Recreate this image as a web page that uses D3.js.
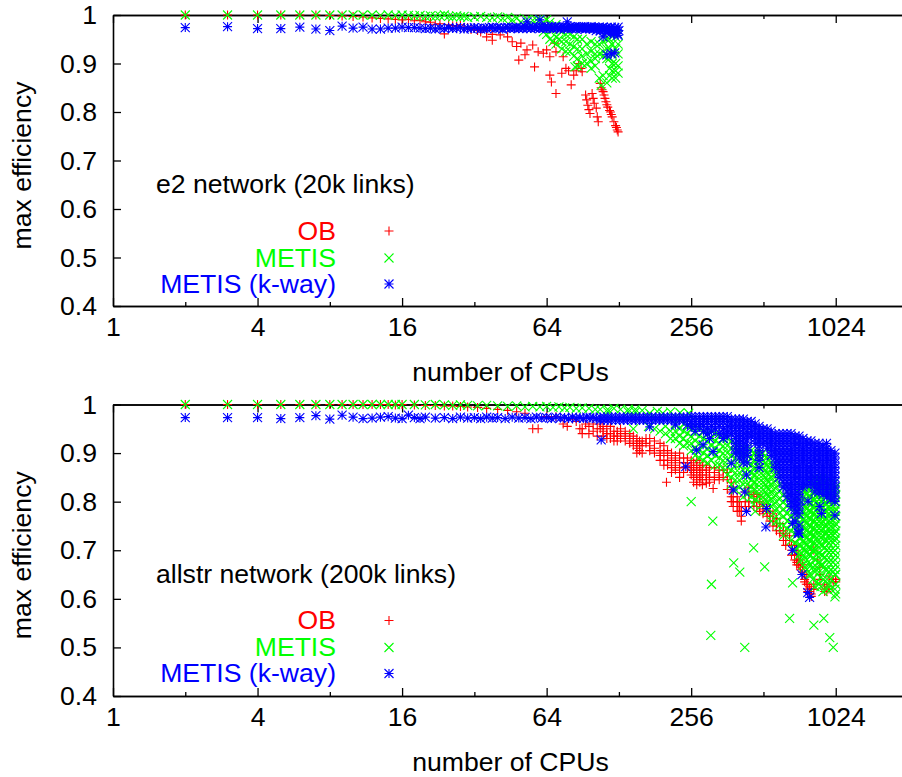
<!DOCTYPE html>
<html><head><meta charset="utf-8">
<script src="https://cdn.jsdelivr.net/npm/d3@7"></script>
<style>html,body{margin:0;background:#fff}svg{display:block}text{font-family:"Liberation Sans",Arial,sans-serif;font-size:26.6px;fill:#000}</style>
</head><body><div id="c"></div>
<script>
// each row: [number of CPUs, max efficiency values read at that CPU count...]
const xMajorTicks=[1,4,16,64,256,1024];
const xMinorTicks=[2,8,32,128,512];
const yTicks=[0.4,0.5,0.6,0.7,0.8,0.9,1];
const seriesNames=["OB","METIS","METIS (k-way)"];
const seriesColors=["#ff0000","#00ff00","#0000ff"];
const panelTitles=["e2 network (20k links)","allstr network (200k links)"];

const e2Ob=[[2,1],[3,1],[4,1],[5,1],[6,1],[7,1],[8,.999],[9,.998],[10,.997],[11,.996],[12,.994],[13,.993],[14,.992],[15,.991],[16,.99],[17,.991],[18,.988],[19,.989],[20,.986],[21,.985],[22,.981],[23,.982],[24,.961],[25,.98],[26,.978],[27,.977],[28,.98],[29,.975],[30,.974],[31,.97],[32,.972],[33,.968],[34,.965,.97],[36,.955,.968],[38,.948,.96],[41,.959],[44,.955],[46,.945],[48,.935],[49,.907],[50,.942],[52,.918],[53,.928],[56,.938],[57,.893],[59,.924],[62,.921],[64,.928],[66,.914,.876],[67,.862],[69,.942],[70,.924,.838],[74,.88],[75,.914],[77,.89],[79,.885],[81,.856],[83,.876],[85,.885],[87,.9],[89,.89],[90,.883],[93,.835],[94,.825],[95,.814],[96,.805],[97,.797],[99,.838],[100,.828],[101,.818],[103,.808],[104,.79],[105,.78],[107,.859],[108,.85],[109,.846],[110,.842],[111,.835],[112,.828],[113,.821],[114,.815],[115,.81],[117,.803],[118,.8],[119,.795],[120,.79],[122,.78],[124,.772],[125,.768],[126,.763],[127,.759]];
const e2Metis=[[2,1],[3,1],[4,1],[5,1],[6,1],[7,1],[8,1],[9,1],[10,1],[11,1],[12,1],[13,.999],[14,1],[15,.999],[16,1],[17,.999],[18,.998],[19,.999],[20,.997],[21,.998],[22,.997],[23,.998],[24,1],[25,.997],[26,.996],[27,.998],[28,.996],[29,.997],[30,.995],[32,.996],[34,.997],[36,.995],[38,.994],[40,.996],[42,.993],[44,.995],[46,.99],[48,.993],[50,.986],[53,.991],[56,.989],[58,.99],[60,.99],[62,.985,.965],[64,.99,.96],[66,.985,.95],[68,.97,.945],[70,.98,.955,.94],[72,.97,.95],[74,.965,.945,.93],[77,.96,.945,.925],[80,.96,.94,.925],[83,.955,.935,.915],[84,.893],[86,.95,.93,.91,.895],[90,.95,.93,.915,.9],[94,.94,.92,.9],[98,.945,.925,.905,.89],[102,.94,.92,.91,.895],[106,.94,.92,.87],[108,.855],[110,.945,.925,.915,.875],[114,.95,.93,.91,.86],[117,.95,.93,.91,.89,.875],[120,.94,.92,.9,.885,.87],[124,.955,.93,.9,.885,.87],[127,.96,.94,.92,.895,.88]];
const e2Kway=[[2,.974],[3,.976],[4,.972],[5,.972],[6,.975],[7,.971],[8,.968],[9,.977],[10,.973],[11,.975],[12,.971],[13,.971],[14,.973],[15,.973],[16,.975],[17,.974],[18,.974],[19,.973],[20,.972],[21,.973],[22,.971],[23,.973],[24,.972],[25,.974],[26,.972],[27,.973],[28,.974],[29,.971],[30,.973],[31,.972],[32,.974],[33,.973],[34,.971],[35,.973],[36,.972],[37,.974],[38,.975],[39,.972],[40,.974],[41,.973],[42,.971],[43,.974],[44,.975],[45,.972],[46,.974],[47,.973],[48,.975],[49,.972],[50,.974],[51,.972],[52,.976],[53,.986,.973],[54,.974],[55,.972],[56,.975],[57,.973],[58,.976],[59,.974],[60,.99,.972],[61,.975],[62,.973],[63,.976],[64,.972],[65,.975],[66,.973],[67,.976],[68,.972],[69,.974],[70,.976],[71,.973],[72,.975],[73,.971],[74,.974],[75,.976],[76,.973],[77,.975],[78,.986,.972],[79,.974],[80,.976],[81,.972],[82,.975],[83,.973],[84,.976],[85,.971],[86,.974],[87,.976],[88,.973],[89,.975],[90,.972],[91,.974],[92,.976],[93,.971],[94,.974],[95,.973],[96,.975],[97,.972],[98,.976],[99,.973],[100,.971],[101,.975],[102,.973],[103,.968],[104,.974],[105,.971],[106,.975],[107,.967],[108,.973],[109,.97],[110,.955,.975],[111,.968],[112,.972],[113,.965],[114,.974,.918],[115,.97],[116,.967],[117,.973],[118,.962],[119,.975,.92],[120,.968],[121,.971],[122,.96],[123,.974,.922],[124,.966],[125,.97],[126,.962],[127,.975,.958],[128,.968]];

const allstrOb=[[2,1],[3,1],[4,1],[5,1],[6,1],[7,1],[8,1],[9,1],[10,1],[11,1],[12,1],[13,1],[14,1],[15,.999],[16,1],[18,.999],[20,.998],[22,.998],[24,.997],[26,.997],[28,.996],[30,.995],[33,.994],[36,.992],[40,.99],[44,.988],[48,.985],[52,.982],[56,.95],[59,.95],[64,.975],[70,.975],[75,.96],[78,.955],[82,.97],[85,.965],[88,.95],[90,.95,.94],[93,.96],[96,.94,.955],[100,.96,.945],[104,.95,.935],[107,.96,.95],[110,.955,.945,.935],[114,.95,.94,.93],[118,.955,.94,.93],[122,.945,.935,.925],[126,.945,.935,.925],[130,.95,.94,.93],[136,.945,.935,.925],[142,.94,.93,.92],[147,.935,.925,.915],[152,.93,.92,.91,.9],[156,.925,.915,.905],[160,.925,.915,.9],[166,.93,.92],[172,.93,.915,.905],[180,.925,.91,.9],[190,.92,.905,.895,.885],[197,.915,.9,.885,.875],[202,.84],[204,.905,.895,.885,.875],[212,.9,.89,.88,.87,.86],[220,.895,.885,.875,.865],[229,.9,.89,.88,.87,.86,.85],[238,.89,.88,.87,.86],[247,.89,.88,.87],[256,.885,.875,.865,.855],[262,.88,.87,.86,.85,.84],[270,.885,.875,.865,.855,.845,.835],[278,.88,.87,.86,.85,.84],[285,.875,.865,.855,.845,.835],[296,.875,.865,.855,.845,.838],[305,.87,.86,.85,.84],[316,.827],[320,.87,.86,.85,.845],[335,.865,.855,.845],[348,.865,.85],[362,.86,.845,.825],[376,.84,.82,.81,.8],[383,.83,.81,.8,.79],[398,.81,.8,.79,.78],[406,.8,.79,.78],[414,.79,.78,.77,.76],[430,.82,.8,.79],[445,.83,.815,.8,.79],[467,.82,.81,.8,.79],[480,.815,.8,.79],[494,.81,.8,.79,.78],[510,.795,.785,.775],[530,.79,.78,.77],[545,.78,.77,.76],[561,.775,.76,.75],[580,.765,.75,.74],[599,.755,.74,.735],[620,.74,.73,.72],[634,.735,.72,.71],[658,.73,.72],[670,.71,.7,.69],[690,.71,.7,.69,.68],[705,.7,.69,.68,.675,.67],[718,.69,.68,.67],[730,.68,.665,.66],[745,.67,.655,.65],[760,.65,.64,.635],[772,.645,.63],[783,.63,.62,.615],[797,.625,.615,.61],[810,.62,.61,.605],[830,.7,.63,.62],[860,.68],[880,.665,.65,.64],[921,.63,.62,.615],[940,.625,.615],[960,.62,.645],[1000,.64,.635],[1024,.64,.635]];
const allstrMetis=[[2,1],[3,1],[4,1],[5,1],[6,1],[7,1],[8,1],[9,1],[10,1],[11,1],[12,1],[13,1],[14,1],[15,1],[16,1],[18,1],[20,.999],[22,1],[24,.999],[26,.998],[28,.999],[30,.998],[33,.997],[36,.998],[40,.997],[44,.996],[48,.997],[52,.995],[56,.996],[60,.995],[64,.996],[68,.994],[72,.995],[76,.993],[80,.994],[85,.992],[90,.993],[96,.992],[102,.99],[107,.99],[115,.99,.985],[122,.992],[130,.99],[140,.99,.985],[147,.95],[150,.99,.985],[160,.988],[172,.982],[185,.986],[195,.982],[210,.985],[230,.983],[250,.982],
[170,.955],[180,.95],[190,.945],[200,.955,.94],[210,.945,.93],[220,.96,.945,.93],[229,.95,.935,.92],[238,.96,.945,.93,.915],[247,.955,.94,.92],[256,.95,.935,.92,.905],[266,.955,.94,.925,.91,.895],[277,.95,.935,.92,.905,.89],[288,.945,.93,.915,.9,.885],[299,.94,.925,.91,.895,.88],[311,.945,.93,.915,.9,.885],[323,.94,.925,.91,.895,.875],[335,.935,.92,.905,.89,.875],[348,.93,.915,.9,.885,.87],[362,.93,.915,.9,.885,.87,.855],[376,.925,.91,.895,.88,.865,.85,.835],[391,.92,.905,.89,.875,.86,.845,.825],[406,.92,.905,.89,.875,.86,.845,.83],[422,.91,.895,.88,.865,.85,.835,.81],[438,.91,.895,.88,.865,.85,.835,.815],[455,.905,.89,.875,.86,.845,.83,.81],[466,.9,.885,.87,.855,.84,.825,.795],[473,.9,.885,.87,.855,.84,.825,.805,.78],[491,.9,.885,.87,.855,.84,.825,.81],[510,.9,.885,.87,.855,.84,.825,.81,.795],[520,.895,.88,.865,.85,.835,.82,.805],[530,.89,.875,.86,.845,.83,.815,.8,.78],[540,.885,.87,.855,.84,.825,.81,.795],[551,.88,.865,.85,.835,.82,.805,.79,.76],[565,.87,.855,.84,.825,.81,.795,.775],[580,.86,.845,.83,.815,.8,.785,.76],[595,.85,.835,.82,.805,.79,.775,.75],[620,.83,.815,.8,.785,.77,.75,.73],[642,.82,.805,.79,.775,.76,.745],[667,.8,.785,.77,.755,.74,.72],[693,.78,.765,.75,.735,.715,.7],[720,.77,.755,.74,.725,.71,.69],[734,.83,.815,.8,.785,.77,.755,.74,.725,.71,.695,.68],[748,.825,.81,.795,.78,.765,.75,.735,.72,.705,.69,.67],[762,.82,.805,.79,.775,.76,.745,.73,.715,.7,.685,.665],[777,.83,.815,.8,.785,.77,.755,.74,.725,.71,.695,.68,.66],[792,.825,.81,.795,.78,.765,.75,.735,.72,.705,.69,.67,.65],[807,.84,.825,.81,.795,.78,.765,.75,.735,.72,.705,.69,.67,.65],[822,.835,.82,.805,.79,.775,.76,.745,.73,.715,.7,.685,.665,.64],[839,.85,.835,.82,.805,.79,.775,.76,.745,.73,.715,.7,.68,.655,.625],[855,.845,.83,.815,.8,.785,.77,.755,.74,.725,.71,.69,.665,.635],[872,.85,.835,.82,.805,.79,.775,.76,.745,.73,.715,.695,.675,.655,.63],[889,.845,.83,.815,.8,.785,.77,.755,.74,.725,.71,.69,.67,.645,.625],[906,.85,.835,.82,.805,.79,.775,.76,.745,.73,.71,.69,.67,.64,.615],[923,.84,.825,.81,.795,.78,.765,.75,.735,.72,.705,.685,.66],[941,.84,.825,.81,.795,.78,.765,.75,.735,.72,.7,.68,.66,.64,.62],[960,.835,.82,.805,.79,.775,.76,.745,.73,.715,.695,.675,.655,.63],[978,.84,.825,.81,.795,.78,.765,.75,.735,.72,.7,.68,.66,.64,.62],[997,.835,.82,.805,.79,.775,.76,.745,.73,.715,.695,.675,.655],[1016,.84,.825,.81,.795,.78,.765,.75,.735,.72,.7,.68,.66,.65,.62,.604],[1024,.83,.815,.8,.785,.77,.755,.74,.725,.71,.69,.67,.65,.63,.61],
[256,.8],[315,.76],[311,.63],[309,.525],[385,.674],[408,.655],[428,.5],[466,.705],[518,.666],[658,.56],[677,.633],[830,.546],[913,.56],[967,.52],[1000,.5]];
const allstrKway=[[2,.973],[3,.973],[4,.973],[5,.971],[6,.973],[7,.977],[8,.97],[9,.978],[10,.974],[11,.971],[12,.972],[13,.974],[14,.975],[15,.972],[16,.971],[17,.978],[18,.973],[19,.971],[20,.974],[22,.972],[24,.973],[26,.971],[28,.974],[30,.972],[32,.973],[34,.971],[36,.974],[38,.972],[40,.973],[43,.971],[46,.974],[49,.972],[52,.973],[55,.971],[58,.974],[61,.972],[64,.973],[67,.971],[70,.974],[73,.972],[76,.973],[79,.971],[82,.974],[85,.972],[88,.973],[91,.971],[94,.974],[97,.972],[100,.973],[103,.971],
[107,.974,.968],[108,.927],[111,.974,.968],[115,.974,.968],[119,.974,.968],[124,.974,.968],[129,.974,.968],[134,.974,.968],[139,.974,.968],[145,.974,.968],[150,.974,.968],[156,.974,.968],[162,.974,.968],[168,.974,.968],[172,.954],[175,.974,.968],[182,.974,.968],[189,.974,.968],[196,.974,.968],[204,.974,.968],[212,.974,.968],[220,.974,.968,.958],[229,.974,.968],[238,.974,.968],[243,.872],[247,.974,.968,.958],[256,.975,.965,.955],[266,.975,.965,.955,.945],[269,.906],[277,.975,.965,.955],[287,.917],[288,.975,.965,.955,.945],[299,.975,.965,.95,.94],[305,.93],[311,.975,.965,.955,.945],[316,.903],[323,.975,.965,.95],[335,.975,.965,.955,.94],[348,.975,.965,.95,.94,.93],[362,.975,.965,.955,.945,.935],[376,.97,.96,.95,.94,.879],[383,.824],[391,.97,.96,.95,.94,.93,.92,.91,.9],[406,.97,.96,.95,.94,.93,.92,.91,.9,.89],[422,.97,.96,.95,.94,.93,.92,.91,.9,.89,.88],[428,.82],[435,.855,.78],[438,.965,.955,.945,.935,.925,.915,.905,.895,.88],[455,.965,.955,.945,.935],[473,.96,.95,.94,.93,.92],[491,.955,.945,.935,.925,.915,.905,.895,.885,.87],[510,.95,.94,.93,.92],[524,.748],[527,.786],[530,.95,.94,.93,.92,.91],[551,.945,.935,.925,.915,.905,.895],[573,.94,.93,.92,.91,.9,.89,.88,.87],[595,.94,.93,.92,.91,.9,.89,.88,.87,.86,.85],[618,.94,.93,.92,.91,.9,.89,.88,.87,.86,.85,.84,.83],[642,.94,.93,.92,.91,.9,.89,.88,.87,.86,.85,.84,.83,.82,.81],[667,.94,.93,.92,.91,.9,.89,.88,.87,.86,.85,.84,.83,.82,.81,.8,.79],[677,.755,.7],[693,.935,.925,.915,.905,.895,.885,.875,.865,.855,.845,.835,.825,.815,.805,.795,.785,.775,.76],[715,.738,.735],[720,.935,.925,.915,.905,.895,.885,.875,.865,.855,.845,.835,.825,.815,.805,.795,.785,.775,.75,.735],[740,.65],[748,.93,.92,.91,.9,.89,.88,.87,.86,.85,.84,.83],[777,.925,.915,.905,.895,.885,.875,.865,.855,.845,.835],[783,.613],[785,.801],[797,.603],[807,.925,.915,.905,.895,.885,.875,.865,.855,.845,.835],[839,.92,.91,.9,.89,.88,.87,.86,.85,.84,.83,.82],[872,.92,.91,.9,.89,.88,.87,.86,.85,.84,.83,.82],[879,.79],[893,.776],[906,.915,.905,.895,.885,.875,.865,.855,.845,.835,.825,.815],[937,.92],[941,.91,.9,.89,.88,.87,.86,.85,.84,.83,.82,.81],[978,.905,.895,.885,.875,.865,.855,.845,.835,.825,.815,.805],[1016,.9,.89,.88,.87,.86,.85,.84,.83,.82,.81,.8,.772]];

const W=902,H=777;
const svg=d3.select("#c").append("svg").attr("width",W).attr("height",H).attr("viewBox",[0,0,W,H]);
const s=4.5;
const glyphs=[
 (x,y)=>`M${x-s},${y}H${x+s}M${x},${y-s}V${y+s}`,
 (x,y)=>`M${x-s},${y-s}L${x+s},${y+s}M${x-s},${y+s}L${x+s},${y-s}`,
 (x,y)=>`M${x-s},${y}H${x+s}M${x},${y-s}V${y+s}M${x-s},${y-s}L${x+s},${y+s}M${x-s},${y+s}L${x+s},${y-s}`
];
function flat(rows){return rows.flatMap(r=>r.slice(1).map(v=>[r[0],v]));}

function panel(top,bottom,offset,title,series){
 const x=d3.scaleLog().base(2).domain([1,2048]).range([113,908]);
 const y=d3.scaleLinear().domain([0.4,1]).range([bottom,top]);
 const g=svg.append("g");
 const ax=(gen,tr,vals,size)=>{const a=g.append("g").attr("transform",tr).call(gen.tickValues(vals).tickSizeInner(size).tickSizeOuter(0));
  a.selectAll("line").attr("stroke","#000").attr("stroke-width",1.3);
  a.select(".domain").attr("stroke","#000").attr("stroke-width",1.6);return a;};
 const bx=ax(d3.axisBottom(x).tickFormat(d=>d),`translate(0,${bottom})`,xMajorTicks,-8);
 bx.selectAll("text").attr("y",30).attr("dy",0).style("font-size","26.6px").style("font-family","Liberation Sans");
 ax(d3.axisBottom(x).tickFormat(""),`translate(0,${bottom})`,xMinorTicks,-4);
 ax(d3.axisTop(x).tickFormat(""),`translate(0,${top})`,xMajorTicks,-8);
 ax(d3.axisTop(x).tickFormat(""),`translate(0,${top})`,xMinorTicks,-4);
 const ly=ax(d3.axisLeft(y).tickFormat(d=>d===1?"1":d3.format(".1f")(d)),`translate(113,0)`,yTicks,-8);
 ly.selectAll("text").attr("x",-16).style("font-size","26.6px").style("font-family","Liberation Sans");
 g.append("text").attr("x",510.5).attr("y",bottom+75).attr("text-anchor","middle").text("number of CPUs");
 g.append("text").attr("transform",`translate(31,${(top+bottom)/2+5}) rotate(-90)`).attr("text-anchor","middle").text("max efficiency");
 g.append("text").attr("x",156).attr("y",193+offset).text(title);
 series.forEach((rows,i)=>{
  g.append("g").attr("fill","none").attr("stroke",seriesColors[i]).attr("stroke-width",1.1)
   .selectAll("path").data(flat(rows)).join("path").attr("d",d=>glyphs[i](x(d[0]),y(d[1])));
 });
 const legY=[231,258,284];
 seriesNames.forEach((n,i)=>{
  const ty=legY[i]+offset;
  g.append("text").attr("x",336).attr("y",ty+8.5).attr("text-anchor","end").style("fill",seriesColors[i]).text(n);
  g.append("path").attr("d",glyphs[i](389,ty)).attr("fill","none").attr("stroke",seriesColors[i]).attr("stroke-width",1.1);
 });
}
panel(15,306,0,panelTitles[0],[e2Ob,e2Metis,e2Kway]);
panel(404.5,696,389.5,panelTitles[1],[allstrOb,allstrMetis,allstrKway]);
</script></body></html>
